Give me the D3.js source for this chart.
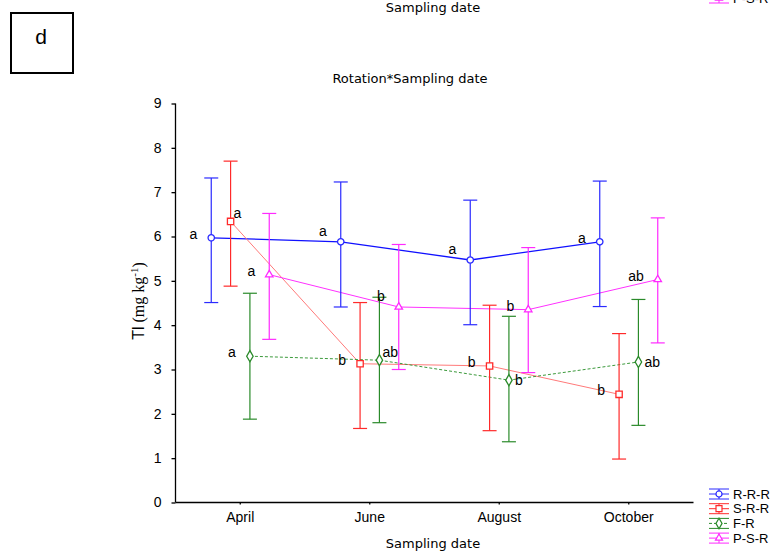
<!DOCTYPE html>
<html>
<head>
<meta charset="utf-8">
<script src="https://cdn.jsdelivr.net/npm/d3@7"></script>
<style>
  body { margin: 0; background: #fff; }
  svg { display: block; }
  .tick text { font-family: "Liberation Sans", Arial, sans-serif; font-size: 14px; fill: #000; }
  .caption { font-family: "DejaVu Sans", sans-serif; font-size: 13px; fill: #000; }
</style>
</head>
<body>
<div id="chart"></div>
<script>
// Data
// ==========================================
var categories = ["April", "June", "August", "October"];
var seriesNames = ["R-R-R", "S-R-R", "F-R", "P-S-R"];
var yTicks = [0, 1, 2, 3, 4, 5, 6, 7, 8, 9];

// means per series, one value per sampling date
var meanRRR = [5.97, 5.88, 5.47, 5.88];
var meanSRR = [6.34, 3.13, 3.08, 2.44];
var meanFR  = [3.30, 3.21, 2.76, 3.17];
var meanPSR = [5.14, 4.41, 4.35, 5.03];

// upper and lower ends of the whiskers
var upperRRR = [7.32, 7.23, 6.82, 7.25];
var lowerRRR = [4.51, 4.41, 4.01, 4.42];
var upperSRR = [7.70, 4.51, 4.45, 3.81];
var lowerSRR = [4.88, 1.67, 1.62, 0.98];
var upperFR  = [4.72, 4.63, 4.20, 4.58];
var lowerFR  = [1.88, 1.80, 1.37, 1.74];
var upperPSR = [6.52, 5.82, 5.75, 6.42];
var lowerPSR = [3.68, 3.00, 2.93, 3.60];

// significance letters
var lettersRRR = ["a", "a", "a", "a"];
var lettersSRR = ["a", "b", "b", "b"];
var lettersFR  = ["a", "ab", "b", "ab"];
var lettersPSR = ["a", "b", "b", "ab"];

// which side of the point each letter sits on
var sideRRR = ["l", "ul", "ul", "l"];
var sideSRR = ["ur", "l", "l", "l"];
var sideFR  = ["l", "ur", "r", "r"];
var sidePSR = ["l", "ul", "l", "l"];

var series = [
    { name: seriesNames[0], mean: meanRRR, up: upperRRR, lo: lowerRRR, let: lettersRRR, side: sideRRR,
      color: "#2a2aff", line: "#1010ff", dash: null, symbol: d3.symbolCircle, size: 32 },
    { name: seriesNames[1], mean: meanSRR, up: upperSRR, lo: lowerSRR, let: lettersSRR, side: sideSRR,
      color: "#ff2a2a", line: "#ff7a7a", dash: null, symbol: d3.symbolSquare, size: 40 },
    { name: seriesNames[2], mean: meanFR, up: upperFR, lo: lowerFR, let: lettersFR, side: sideFR,
      color: "#2a8a2a", line: "#3c9a3c", dash: "3,2", symbol: d3.symbolDiamond, size: 36 },
    { name: seriesNames[3], mean: meanPSR, up: upperPSR, lo: lowerPSR, let: lettersPSR, side: sidePSR,
      color: "#ff2aff", line: "#ff30ff", dash: null, symbol: d3.symbolTriangle, size: 24 }
];

// Set up the chart
// ==========================================
var svgWidth = 774;
var svgHeight = 555;

var svg = d3.select("#chart")
    .append("svg")
    .attr("width", svgWidth)
    .attr("height", svgHeight);

var xScale = d3.scaleBand()
    .domain(categories)
    .range([175.5, 693.5]);

var offScale = d3.scalePoint()
    .domain(seriesNames)
    .range([-29, 29]);

var yScale = d3.scaleLinear()
    .domain([0, 9])
    .range([502.5, 103.5]);

function px(s, i) {
    return xScale(categories[i]) + xScale.bandwidth() / 2 + offScale(s.name);
}

// Axes
// ==========================================
var leftAxis = d3.axisLeft(yScale).tickValues(yTicks).tickSize(4).tickPadding(10);
var bottomAxis = d3.axisBottom(xScale).tickSize(2).tickPadding(8);

var yG = svg.append("g")
    .attr("transform", "translate(175.5,0)")
    .call(leftAxis);
yG.select(".domain").attr("d", "M0,103.5V502.5");

var xG = svg.append("g")
    .attr("transform", "translate(0,502.5)")
    .call(bottomAxis);
xG.select(".domain").attr("d", "M175.5,0H693.5");

svg.selectAll(".domain, .tick line").attr("stroke", "#000").attr("stroke-width", 1.3);

// Lines joining the means
// ==========================================
series.forEach(function(s) {
    var line = d3.line()
        .x(function(d, i) { return px(s, i); })
        .y(function(d) { return yScale(d); });
    svg.append("path")
        .datum(s.mean)
        .attr("d", line)
        .attr("fill", "none")
        .attr("stroke", s.line)
        .attr("stroke-width", s.name === "R-R-R" ? 1.3 : 1)
        .attr("stroke-dasharray", s.dash);
});

// Error bars and markers
// ==========================================
var capHalf = 7;
series.forEach(function(s) {
    var g = svg.append("g");
    s.mean.forEach(function(m, i) {
        var x = px(s, i);
        g.append("line")
            .attr("x1", x).attr("x2", x)
            .attr("y1", yScale(s.up[i])).attr("y2", yScale(s.lo[i]))
            .attr("stroke", s.color).attr("stroke-width", 1.2);
        [s.up[i], s.lo[i]].forEach(function(v) {
            g.append("line")
                .attr("x1", x - capHalf).attr("x2", x + capHalf)
                .attr("y1", yScale(v)).attr("y2", yScale(v))
                .attr("stroke", s.color).attr("stroke-width", 1.2);
        });
        g.append("path")
            .attr("d", d3.symbol().type(s.symbol).size(s.size))
            .attr("transform", "translate(" + x + "," + yScale(m) + ")")
            .attr("fill", "#fff")
            .attr("stroke", s.color)
            .attr("stroke-width", 1.3);
    });
});

// Significance letters
// ==========================================
var sideOffsets = {
    l:  { dx: -14, dy: 1,  anchor: "end" },
    ul: { dx: -14, dy: -6, anchor: "end" },
    ur: { dx: 3,   dy: -3, anchor: "start" },
    r:  { dx: 6,   dy: 5,  anchor: "start" }
};
series.forEach(function(s) {
    s.let.forEach(function(t, i) {
        var o = sideOffsets[s.side[i]];
        svg.append("text")
            .attr("x", px(s, i) + o.dx)
            .attr("y", yScale(s.mean[i]) + o.dy)
            .attr("text-anchor", o.anchor)
            .attr("font-family", "Liberation Sans, Arial, sans-serif")
            .attr("font-size", 14)
            .text(t);
    });
});

// Legend
// ==========================================
function legendEntry(s, y) {
    var g = svg.append("g").attr("transform", "translate(709," + y + ")");
    [-5, 0, 5].forEach(function(dy) {
        g.append("line").attr("x1", 0).attr("x2", 20).attr("y1", dy).attr("y2", dy)
            .attr("stroke", s.color).attr("stroke-width", 1)
            .attr("stroke-dasharray", dy === 0 ? s.dash : null);
    });
    g.append("line").attr("x1", 10).attr("x2", 10).attr("y1", -5).attr("y2", 5)
        .attr("stroke", s.color).attr("stroke-width", 1);
    g.append("path")
        .attr("d", d3.symbol().type(s.symbol).size(s.size * 0.9))
        .attr("transform", "translate(10,0)")
        .attr("fill", "#fff").attr("stroke", s.color).attr("stroke-width", 1.2);
    g.append("text")
        .attr("x", 24).attr("y", 4.5)
        .attr("font-family", "Liberation Sans, Arial, sans-serif")
        .attr("font-size", 13)
        .text(s.name);
}
series.forEach(function(s, i) { legendEntry(s, 494 + i * 14.7); });
// leftover of the panel above
legendEntry(series[3], -2);

// Text
// ==========================================
svg.append("text").attr("class", "caption")
    .attr("x", 433).attr("y", 12).attr("text-anchor", "middle")
    .text("Sampling date");

svg.append("text").attr("class", "caption")
    .attr("x", 433).attr("y", 548).attr("text-anchor", "middle")
    .text("Sampling date");

svg.append("text").attr("class", "caption")
    .attr("x", 410).attr("y", 83).attr("text-anchor", "middle")
    .text("Rotation*Sampling date");

// y axis label
var yLab = svg.append("text")
    .attr("transform", "translate(144,301) rotate(-90)")
    .attr("text-anchor", "middle")
    .attr("font-family", "Liberation Serif, Times New Roman, serif")
    .attr("font-size", 16);
yLab.append("tspan").attr("font-family", "Liberation Sans, Arial, sans-serif").text("Tl");
yLab.append("tspan").text(" (mg kg");
yLab.append("tspan").attr("dy", -6).attr("font-size", 11).text("-1");
yLab.append("tspan").attr("dy", 6).text(")");

// panel letter box
svg.append("rect")
    .attr("x", 11).attr("y", 13).attr("width", 62).attr("height", 60)
    .attr("fill", "none").attr("stroke", "#000").attr("stroke-width", 2);
svg.append("text")
    .attr("x", 41).attr("y", 44).attr("text-anchor", "middle")
    .attr("font-family", "Liberation Sans, Arial, sans-serif")
    .attr("font-size", 21)
    .text("d");
</script>
</body>
</html>
